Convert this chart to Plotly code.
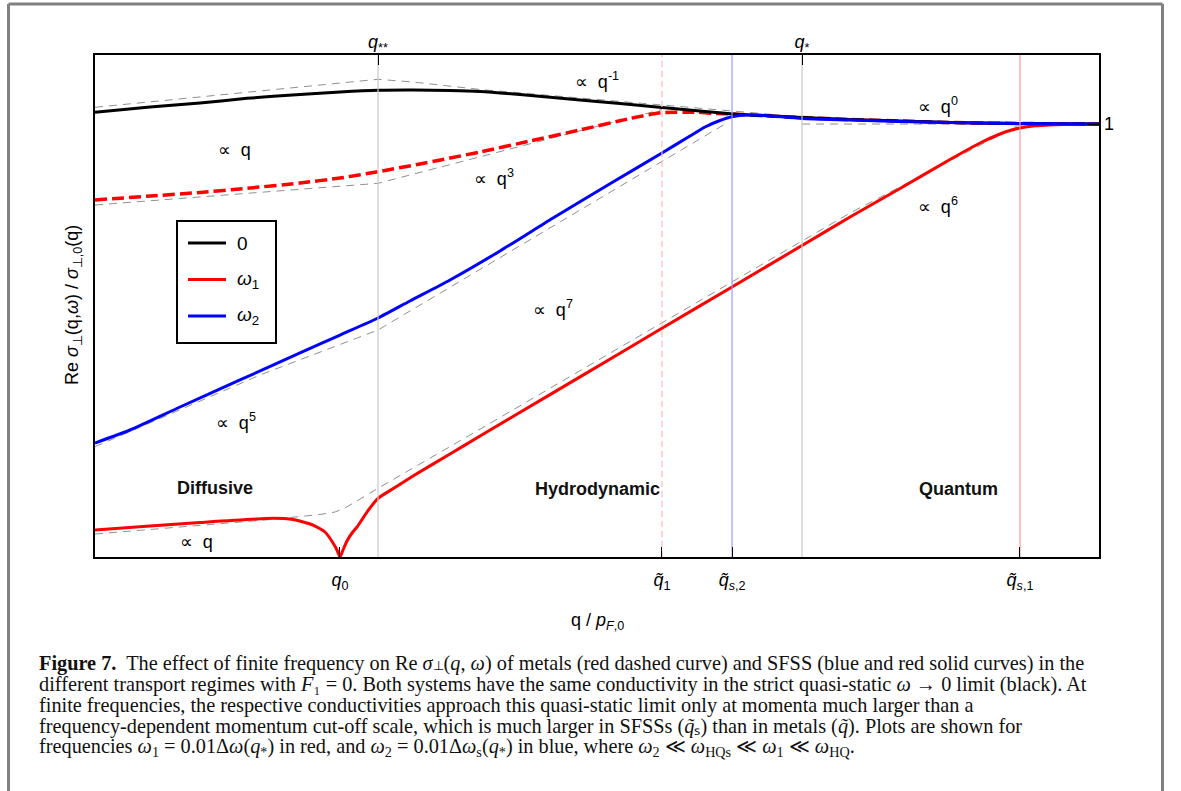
import plotly.graph_objects as go

# ---------------- data (arbitrary log-scale units, x: 0..100, y: 0..100) ----------------
Q_BLACK = [0, 5.48, 10.46, 15.14, 20.42, 24.40, 28.19, 31.67, 35.36, 38.35, 42.33, 48.31, 52.29,
           56.47, 60.26, 63.55, 66.24, 70.42, 75.20, 80.18, 85.16, 90.14, 100]
S_BLACK = [88.59, 89.64, 90.44, 91.37, 92.13, 92.63, 92.97, 93.03, 92.93, 92.73, 92.13, 91.04, 90.34,
           89.54, 88.84, 88.25, 87.95, 87.55, 87.15, 86.85, 86.55, 86.39, 86.25]

Q_METAL = [0, 5.48, 10.46, 15.14, 20.42, 24.40, 28.19, 32.37, 38.35, 43.33, 48.31, 53.29, 56.47,
           59.96, 61.75, 63.55, 66.24, 70.42, 75.20, 80.18, 85.16, 90.14, 100]
S_METAL = [71.12, 71.91, 72.61, 73.45, 74.50, 75.50, 76.75, 78.29, 80.68, 82.87, 85.06, 87.35, 88.51,
           88.59, 88.35, 88.25, 87.95, 87.55, 87.15, 86.85, 86.55, 86.39, 86.25]

Q_SFSS2 = [0, 3.49, 8.47, 14.44, 20.42, 24.40, 28.19, 31.37, 35.36, 40.34, 45.62, 51.59, 56.47,
           59.26, 60.76, 62.25, 63.55, 64.94, 66.73, 70.42, 75.20, 80.18, 85.16, 90.14, 100]
S_SFSS2 = [22.71, 25.30, 29.88, 35.26, 40.64, 44.22, 47.61, 51.00, 55.18, 60.96, 67.53, 74.70, 80.48,
           83.86, 85.66, 86.95, 87.75, 88.05, 87.95, 87.35, 87.05, 86.75, 86.55, 86.39, 86.25]

Q_SFSS1 = [0, 5.48, 10.46, 17.73, 19.72, 21.71, 22.91, 23.71, 24.10, 24.40, 24.70, 25.10, 25.60, 26.10,
           27.09, 28.19, 29.88, 31.67, 35.36, 38.35, 45.32, 52.29, 56.47, 63.45, 70.42, 75.20, 80.18,
           85.16, 88.15, 90.14, 91.14, 92.13, 93.63, 95.12, 97.61, 100]
S_SFSS1 = [5.38, 6.18, 6.87, 7.71, 7.47, 6.37, 4.98, 2.79, 1.39, 0, 1.39, 3.19, 4.78, 5.98,
           8.96, 11.69, 13.84, 16.14, 20.52, 24.10, 32.35, 40.60, 45.56, 53.80, 62.05, 67.73, 73.41,
           79.18, 82.47, 84.26, 84.96, 85.46, 85.90, 86.08, 86.20, 86.25]

# power-law asymptotes (grey dashed)
ASY_BLACK_Q = [0, 15.44, 28.19, 31.67, 38.35, 56.47, 70.42]
ASY_BLACK_S = [89.58, 92.63, 95.16, 94.62, 93.13, 90.04, 87.65]
ASY_FLAT_Q = [70.42, 100]
ASY_FLAT_S = [86.25, 86.25]
ASY_METAL_Q = [0, 28.19, 56.47]
ASY_METAL_S = [70.12, 74.44, 89.14]
ASY_SFSS2_Q = [0, 16.43, 28.19, 62.75]
ASY_SFSS2_S = [21.97, 36.25, 45.22, 86.25]
ASY_SFSS1_Q = [0, 8.47, 17.73, 22.41, 23.90, 24.90, 26.39, 28.19, 37.35, 75.20, 91.83, 93.13]
ASY_SFSS1_S = [4.58, 5.92, 7.51, 8.47, 8.96, 9.76, 11.55, 13.69, 24.30, 68.53, 85.86, 86.25]

# characteristic momenta (vertical guides)
GUIDE_Q = [28.19, 56.47, 63.45, 70.42, 92.13]
GUIDE_COLORS = ["#c8c8c8", "#ffb8b8", "#9a9aff", "#c8c8c8", "#ff9a9a"]
GUIDE_DASH = ["solid", "dash", "solid", "solid", "solid"]

BOTTOM_TICKS = [24.40, 56.47, 63.45, 92.13]
BOTTOM_LABELS = ["<i>q</i><sub>0</sub>", "<i>q̃</i><sub>1</sub>",
                 "<i>q̃</i><sub><i>s</i>,2</sub>", "<i>q̃</i><sub><i>s</i>,1</sub>"]
TOP_TICKS = [28.19, 70.42]
TOP_LABELS = ["<i>q</i><sub>**</sub>", "<i>q</i><sub>*</sub>"]
RIGHT_TICKS = [86.25]
RIGHT_LABELS = ["1"]

PROP = "<span style='font-family:DejaVu Sans'>∝</span>"
POWER_LABELS = [PROP + "  q", PROP + "  q<sup>3</sup>", PROP + "  q<sup>-1</sup>", PROP + "  q<sup>0</sup>",
                PROP + "  q<sup>6</sup>", PROP + "  q<sup>7</sup>", PROP + "  q<sup>5</sup>", PROP + "  q"]
POWER_X = [13.94, 39.74, 50.0, 83.96, 83.96, 45.62, 14.04, 10.06]
POWER_Y = [81.08, 75.50, 95.0, 90.04, 70.12, 49.6, 27.09, 2.99]

REGIME_LABELS = ["Diffusive", "Hydrodynamic", "Quantum"]
REGIME_X = [11.95, 50.0, 85.96]
REGIME_Y = [13.75, 13.55, 13.55]

LEGEND_NAMES = ["0", "<i>ω</i><sub>1</sub>", "<i>ω</i><sub>2</sub>"]
LEGEND_COLORS = ["black", "#ff0000", "#0000ff"]

SMALL = "<span style='font-size:13px'>{}</span>"
CAPTION = [
    "<b>Figure 7.</b>  The effect of finite frequency on Re <i>σ</i>" + SMALL.format("⊥")
    + "(<i>q</i>, <i>ω</i>) of metals (red dashed curve) and SFSS (blue and red solid curves) in the",
    "different transport regimes with <i>F</i>₁ = 0. Both systems have the same conductivity in the strict quasi-static <i>ω</i> → 0 limit (black). At",
    "finite frequencies, the respective conductivities approach this quasi-static limit only at momenta much larger than a",
    "frequency-dependent momentum cut-off scale, which is much larger in SFSSs (<i>q̃</i>ₛ) than in metals (<i>q̃</i>). Plots are shown for",
    "frequencies <i>ω</i><sub>1</sub> = 0.01Δ<i>ω</i>(<i>q</i><sub>*</sub>) in red, and <i>ω</i><sub>2</sub> = 0.01Δ<i>ω</i><sub>s</sub>(<i>q</i><sub>*</sub>) in blue, where <i>ω</i><sub>2</sub> ≪ <i>ω</i><sub>HQs</sub> ≪ <i>ω</i><sub>1</sub> ≪ <i>ω</i><sub>HQ</sub>.",
]

# ---------------- figure ----------------
W, H = 1181, 791
L, R, T, B = 95, 82, 55, 234
PW, PH = W - L - R, H - T - B


def px(x):
    return (x - L) / PW


def py(y):
    return (H - B - y) / PH


SANS = "Liberation Sans, Arial, sans-serif"
SERIF = "Liberation Serif, Times New Roman, serif"

fig = go.Figure()

# vertical guides
for q, c, d in zip(GUIDE_Q, GUIDE_COLORS, GUIDE_DASH):
    fig.add_trace(go.Scatter(x=[q, q], y=[0, 100], mode="lines", xaxis="x2", yaxis="y2",
                             line=dict(color=c, width=1.2, dash="6px,4px" if d == "dash" else "solid"),
                             showlegend=False, hoverinfo="skip"))

# asymptotes
for aq, asy in [(ASY_BLACK_Q, ASY_BLACK_S), (ASY_FLAT_Q, ASY_FLAT_S), (ASY_METAL_Q, ASY_METAL_S),
                (ASY_SFSS2_Q, ASY_SFSS2_S), (ASY_SFSS1_Q, ASY_SFSS1_S)]:
    fig.add_trace(go.Scatter(x=aq, y=asy, mode="lines",
                             line=dict(color="#909090", width=1, dash="8px,6px"),
                             showlegend=False, hoverinfo="skip"))

SM = 0.6
fig.add_trace(go.Scatter(x=Q_SFSS1, y=S_SFSS1, mode="lines", name="SFSS ω1",
                         line=dict(color="#ff0000", width=3, shape="spline", smoothing=0.5), showlegend=False))
fig.add_trace(go.Scatter(x=Q_METAL, y=S_METAL, mode="lines", name="metal ω1",
                         line=dict(color="#ff0000", width=3.5, dash="12px,5px", shape="spline", smoothing=SM),
                         showlegend=False))
fig.add_trace(go.Scatter(x=Q_BLACK, y=S_BLACK, mode="lines", name="0",
                         line=dict(color="black", width=3, shape="spline", smoothing=SM), showlegend=False))
fig.add_trace(go.Scatter(x=Q_SFSS2, y=S_SFSS2, mode="lines", name="SFSS ω2",
                         line=dict(color="#0000ff", width=3, shape="spline", smoothing=SM), showlegend=False))

annotations = []
for t, x, y in zip(POWER_LABELS, POWER_X, POWER_Y):
    annotations.append(dict(x=x, y=y, xref="x", yref="y", text=t, showarrow=False,
                            xanchor="center", yanchor="middle",
                            font=dict(family=SANS, size=18, color="black")))
for t, x, y in zip(REGIME_LABELS, REGIME_X, REGIME_Y):
    annotations.append(dict(x=x, y=y, xref="x", yref="y", text="<b>" + t + "</b>", showarrow=False,
                            xanchor="center", yanchor="middle",
                            font=dict(family=SANS, size=18, color="#111111")))

# axis titles
annotations.append(dict(x=px(597), y=py(622), xref="paper", yref="paper", showarrow=False,
                        xanchor="center", yanchor="middle",
                        text="q / <i>p</i><sub><i>F</i>,0</sub>", font=dict(family=SANS, size=18, color="black")))
annotations.append(dict(x=px(73), y=py(305), xref="paper", yref="paper", showarrow=False, textangle=-90,
                        xanchor="center", yanchor="middle",
                        text="Re <i>σ</i><sub>⊥</sub>(q,<i>ω</i>) / <i>σ</i><sub>⊥,0</sub>(q)",
                        font=dict(family=SANS, size=18, color="black")))

shapes = []
# legend box
shapes.append(dict(type="rect", xref="paper", yref="paper", x0=px(177), x1=px(276), y0=py(343), y1=py(221),
                   line=dict(color="black", width=2), fillcolor="white", layer="above"))
for i, (nm, col) in enumerate(zip(LEGEND_NAMES, LEGEND_COLORS)):
    yy = 243 + i * 36.5
    shapes.append(dict(type="line", xref="paper", yref="paper", x0=px(188), x1=px(226), y0=py(yy), y1=py(yy),
                       line=dict(color=col, width=3), layer="above"))
    annotations.append(dict(x=px(235), y=py(yy), xref="paper", yref="paper", xanchor="left", yanchor="middle",
                            showarrow=False, text=nm, font=dict(family=SANS, size=19, color="black")))

# page frame
shapes.append(dict(type="line", xref="paper", yref="paper", x0=px(8.5), x1=px(8.5), y0=py(4), y1=py(820),
                   line=dict(color="#808080", width=3)))
shapes.append(dict(type="line", xref="paper", yref="paper", x0=px(8.5), x1=px(1162.5), y0=py(4), y1=py(4),
                   line=dict(color="#808080", width=3)))
shapes.append(dict(type="line", xref="paper", yref="paper", x0=px(1162.5), x1=px(1162.5), y0=py(4), y1=py(820),
                   line=dict(color="#808080", width=3)))

# caption
for i, line in enumerate(CAPTION):
    annotations.append(dict(x=px(37), y=py(663 + 21 * i), xref="paper", yref="paper", xanchor="left",
                            yanchor="middle", showarrow=False, align="left", text=line,
                            font=dict(family=SERIF, size=20.3, color="#111111")))

axis_common = dict(range=[0, 100], showgrid=False, zeroline=False, fixedrange=True)

fig.update_layout(
    width=W, height=H,
    margin=dict(l=L, r=R, t=T, b=B, pad=0),
    paper_bgcolor="white", plot_bgcolor="white",
    xaxis=dict(**axis_common, showline=True, mirror=True, linecolor="black", linewidth=1.5,
               ticks="inside", ticklen=10, tickwidth=1.3, tickcolor="black",
               tickvals=BOTTOM_TICKS, ticktext=BOTTOM_LABELS, ticklabelstandoff=6,
               tickfont=dict(family=SANS, size=18, color="black")),
    xaxis2=dict(**axis_common, overlaying="x", side="top", showline=False,
                ticks="inside", ticklen=10, tickwidth=1.3, tickcolor="black",
                tickvals=TOP_TICKS, ticktext=TOP_LABELS, ticklabelstandoff=2,
                tickfont=dict(family=SANS, size=18, color="black")),
    yaxis=dict(**axis_common, showline=True, mirror=True, linecolor="black", linewidth=1.5,
               showticklabels=False, ticks=""),
    yaxis2=dict(**axis_common, overlaying="y", side="right", showline=False,
                ticks="inside", ticklen=12, tickwidth=1.3, tickcolor="black",
                tickvals=RIGHT_TICKS, ticktext=RIGHT_LABELS, ticklabelstandoff=4,
                tickfont=dict(family=SANS, size=18, color="black")),
    annotations=annotations,
    shapes=shapes,
    showlegend=False,
)

fig.write_html("out.html", config={"displayModeBar": False},
               post_script="document.body.style.margin='0';document.body.style.padding='0';")
